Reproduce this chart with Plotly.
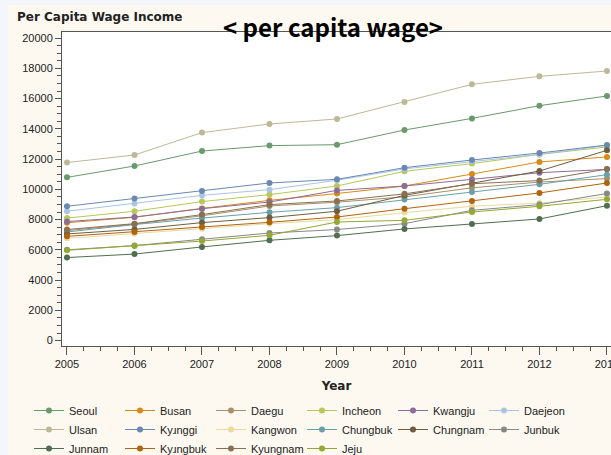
import plotly.graph_objects as go

years = [2005, 2006, 2007, 2008, 2009, 2010, 2011, 2012, 2013]

regions = ["Seoul", "Busan", "Daegu", "Incheon", "Kwangju", "Daejeon",
           "Ulsan", "Ky\u0279nggi", "Kangwon", "Chungbuk", "Ch\u0279ngnam", "Junbuk",
           "Junnam", "Ky\u0279ngbuk", "Kyungnam", "Jeju"]

colors = ["#6a9a6c", "#d98a14", "#a8906a", "#b6c85a", "#8e6c9a", "#a9c5e2",
          "#bfb896", "#6a88b2", "#e9da9e", "#6a9fa8", "#6e5e3e", "#888888",
          "#4f6f50", "#b0640c", "#8a7050", "#94a832"]

seoul    = [10790, 11540, 12530, 12890, 12950, 13920, 14690, 15530, 16170]
busan    = [7790, 8150, 8740, 9270, 9720, 10220, 11010, 11810, 12140]
daegu    = [7270, 7700, 8250, 8900, 9150, 9500, 10100, 10480, 10710]
incheon  = [8100, 8550, 9190, 9650, 10220, 11190, 11700, 12310, 12800]
kwangju  = [7870, 8170, 8720, 9160, 9930, 10220, 10660, 11100, 11320]
daejeon  = [8550, 9060, 9600, 9980, 10600, 11350, 11850, 12310, 12900]
ulsan    = [11770, 12270, 13750, 14320, 14650, 15770, 16940, 17470, 17820]
kyunggi  = [8880, 9390, 9890, 10420, 10660, 11430, 11940, 12400, 12930]
kangwon  = [6760, 7060, 7400, 7730, 8000, 8460, 8880, 9090, 9490]
chungbuk = [7180, 7670, 8100, 8480, 8790, 9320, 9820, 10330, 10970]
chungnam = [7050, 7350, 7800, 8130, 8550, 9600, 10400, 11210, 12580]
junbuk   = [6000, 6280, 6700, 7110, 7340, 7730, 8610, 8990, 9720]
junnam   = [5490, 5720, 6190, 6630, 6940, 7380, 7710, 8040, 8920]
kyungbuk = [6890, 7180, 7510, 7820, 8170, 8720, 9230, 9760, 10420]
kyungnam = [7340, 7730, 8330, 8990, 9230, 9700, 10370, 10580, 11340]
jeju     = [5970, 6250, 6580, 6960, 7840, 7950, 8500, 8880, 9340]

series = [seoul, busan, daegu, incheon, kwangju, daejeon, ulsan, kyunggi,
          kangwon, chungbuk, chungnam, junbuk, junnam, kyungbuk, kyungnam, jeju]

fig = go.Figure()
for name, col, vals in zip(regions, colors, series):
    fig.add_trace(go.Scatter(
        x=years, y=vals, name=name, mode="lines+markers",
        line=dict(color=col, width=1),
        marker=dict(color=col, size=6, line=dict(width=0)),
    ))

W, H = 611, 455
ML, MR, MT, MB = 62, 0, 32, 109
pw = W - ML - MR
ph = H - MT - MB

def px_x(p):
    return (p - ML) / pw

def px_y(p):
    return (H - MB - p) / ph

axis_col = "#555555"
tick_font = dict(family="Liberation Sans, Arial, sans-serif", size=11, color="#222222")

fig.update_layout(
    width=W, height=H, autosize=False,
    margin=dict(l=ML, r=MR, t=MT, b=MB, pad=0, autoexpand=False),
    paper_bgcolor="#fdf9f1",
    plot_bgcolor="#ffffff",
    showlegend=True,
    legend=dict(
        orientation="h",
        x=29 / W, xanchor="left", xref="container",
        y=1 - 396 / H, yanchor="top", yref="container",
        entrywidth=46, entrywidthmode="pixels",
        font=dict(family="Liberation Sans, Arial, sans-serif", size=11, color="#222222"),
        bgcolor="rgba(0,0,0,0)",
        itemclick=False, itemdoubleclick=False,
    ),
    xaxis=dict(
        range=[2004.926, 2013.06],
        tickmode="array", tickvals=years, ticktext=[str(y) for y in years],
        showgrid=False, zeroline=False,
        showline=True, linecolor=axis_col, linewidth=1, mirror=True,
        ticks="outside", ticklen=8, tickcolor=axis_col, tickwidth=1,
        minor=dict(dtick=0.25, tick0=2005, ticks="outside", ticklen=4,
                   tickcolor=axis_col, tickwidth=1, showgrid=False),
        tickfont=tick_font,
        ticklabeloverflow="allow",
        title=dict(text="<b>Year</b>", standoff=12,
                   font=dict(family="DejaVu Sans, sans-serif", size=12, color="#222222")),
        automargin=False,
    ),
    yaxis=dict(
        range=[-357, 20400],
        tickmode="linear", tick0=0, dtick=2000, tickformat="d",
        showgrid=False, zeroline=False,
        showline=True, linecolor=axis_col, linewidth=1,
        ticks="outside", ticklen=6, tickcolor=axis_col, tickwidth=1,
        minor=dict(dtick=500, ticks="outside", ticklen=4,
                   tickcolor=axis_col, tickwidth=1, showgrid=False),
        tickfont=tick_font,
        automargin=False,
    ),
    shapes=[
        dict(type="rect", xref="paper", yref="paper",
             x0=px_x(0), x1=px_x(W), y0=px_y(5), y1=px_y(0),
             fillcolor="#f3f6fb", line=dict(width=0), layer="below"),
        dict(type="rect", xref="paper", yref="paper",
             x0=px_x(0), x1=px_x(8), y0=px_y(H), y1=px_y(0),
             fillcolor="#f3f6fb", line=dict(width=0), layer="below"),
    ],
    annotations=[
        dict(text="<b>Per Capita Wage Income</b>", xref="paper", yref="paper",
             x=px_x(15), y=px_y(17), xanchor="left", yanchor="middle",
             showarrow=False,
             font=dict(family="DejaVu Sans, sans-serif", size=12, color="#222222")),
        dict(text="<b>&lt; per capita wage&gt;</b>", xref="paper", yref="paper",
             x=px_x(333), y=px_y(27), xanchor="center", yanchor="middle",
             showarrow=False,
             font=dict(family="Noto Sans CJK KR, sans-serif", size=24, color="#000000")),
    ],
)

fig.write_html(
    "out.html",
    config={"displayModeBar": False, "responsive": False},
    post_script="document.body.style.margin='0';document.body.style.background='#fdf9f1';",
)
